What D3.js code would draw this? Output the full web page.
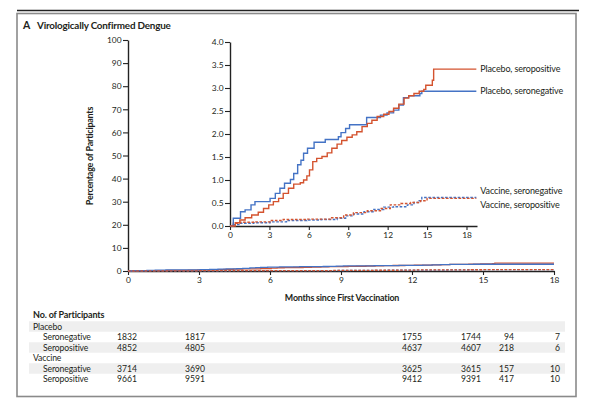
<!DOCTYPE html>
<html><head><meta charset="utf-8">
<script src="https://cdn.jsdelivr.net/npm/d3@7"></script>
<style>
html,body{margin:0;padding:0;background:#fff;}
svg{display:block;font-family:Lato,"Noto Sans",sans-serif;}
</style></head>
<body>
<svg id="c" width="600" height="400"></svg>
<script>
// ---- data ----
const title = "Virologically Confirmed Dengue";
const panelLetter = "A";
const mainYTicks = [0,10,20,30,40,50,60,70,80,90,100];
const xTicks = [0,3,6,9,12,15,18];
const insetYTicks = [0,0.5,1,1.5,2,2.5,3,3.5,4];
const seriesNames = ["Placebo, seropositive","Placebo, seronegative","Vaccine, seronegative","Vaccine, seropositive"];

// [month, cumulative %] step points
const placeboSeroneg = [[0,0],[0.25,0.17],[0.8,0.31],[1.15,0.35],[1.6,0.46],[1.9,0.53],[3.05,0.6],[3.45,0.71],[3.8,0.82],[4.15,0.93],[4.6,1.01],[4.85,1.14],[5.15,1.33],[5.4,1.43],[5.6,1.58],[5.9,1.69],[6.4,1.82],[7.25,1.88],[8.25,1.94],[8.45,2.03],[8.8,2.12],[9.1,2.2],[10.4,2.36],[11.45,2.41],[11.95,2.46],[12.45,2.52],[12.85,2.63],[13.2,2.79],[13.6,2.83],[14.45,2.88],[14.6,2.93],[18.75,2.93]];
const placeboSeropos = [[0,0],[0.4,0.07],[0.75,0.13],[1.15,0.18],[1.65,0.24],[2.15,0.3],[2.55,0.38],[2.95,0.46],[3.3,0.53],[3.7,0.6],[4.05,0.71],[4.45,0.82],[4.85,0.91],[5.35,0.94],[5.6,1.0],[5.85,1.09],[6.05,1.22],[6.3,1.4],[6.6,1.47],[7.0,1.51],[7.4,1.59],[7.75,1.69],[8.15,1.78],[8.5,1.86],[8.9,1.93],[9.3,1.98],[9.65,2.05],[10.05,2.16],[10.45,2.23],[10.8,2.3],[11.2,2.38],[11.7,2.43],[12.1,2.49],[12.45,2.56],[12.85,2.65],[13.25,2.78],[13.6,2.83],[14.0,2.88],[14.4,2.93],[14.75,2.97],[14.9,3.06],[15.4,3.17],[15.5,3.41],[18.75,3.41]];
const vaccineSeroneg = [[0,0],[0.25,0.03],[0.75,0.06],[1.8,0.07],[3.05,0.09],[4.3,0.12],[5.85,0.13],[6.9,0.14],[8.15,0.17],[8.8,0.22],[9.4,0.26],[10.2,0.31],[10.95,0.36],[11.7,0.41],[12.45,0.42],[13.5,0.46],[14.0,0.51],[14.4,0.55],[14.6,0.62],[18.75,0.62]];
const vaccineSeropos = [[0,0],[0.25,0.06],[0.75,0.08],[1.8,0.09],[3.05,0.12],[4.05,0.14],[5.85,0.15],[7.65,0.18],[8.65,0.24],[9.4,0.29],[10.45,0.33],[11.45,0.38],[12.2,0.46],[13.0,0.49],[13.75,0.51],[14.5,0.55],[15.0,0.6],[18.75,0.6]];

// table
const tableGroups = ["Placebo","Vaccine"];
const tableRowLabels = ["Seronegative","Seropositive"];
const placeboCounts = [[1832,1817,1755,1744,94,7],[4852,4805,4637,4607,218,6]];
const vaccineCounts = [[3714,3690,3625,3615,157,10],[9661,9591,9412,9391,417,10]];

// ---- layout ----
const RED = "#d4532f", BLUE = "#4473c5", TXT = "#231f20";
const svg = d3.select("#c");

// frame
svg.append("line").attr("x1",17).attr("x2",579).attr("y1",10.5).attr("y2",10.5).attr("stroke","#222").attr("stroke-width",1.5);
svg.append("rect").attr("x",17).attr("y",13.5).attr("width",559).attr("height",383).attr("fill","none").attr("stroke","#8a8a8a").attr("stroke-width",1.6);

// title
svg.append("text").attr("x",23).attr("y",28.5).attr("font-size",10.5).attr("font-weight",700).attr("fill",TXT).text(panelLetter);
svg.append("text").attr("x",37).attr("y",28.5).attr("font-size",9.9).attr("font-weight",700).attr("fill",TXT).attr("letter-spacing",-0.2).text(title);

const series = [
  {name:seriesNames[0], data:placeboSeropos, color:RED, dash:null, dy:0},
  {name:seriesNames[1], data:placeboSeroneg, color:BLUE, dash:null, dy:0},
  {name:seriesNames[2], data:vaccineSeroneg, color:BLUE, dash:"2.6,1.6", dy:-6.5},
  {name:seriesNames[3], data:vaccineSeropos, color:RED, dash:"2.6,1.6", dy:6.5}
];

// ---- main chart ----
const mx = d3.scaleLinear().domain([0,18]).range([128,554]);
const my = d3.scaleLinear().domain([0,100]).range([271,40]);
const fs = 8.4;

const yAx = svg.append("g").attr("transform","translate(128,0)")
  .call(d3.axisLeft(my).tickValues(mainYTicks).tickSize(5).tickPadding(1.5).tickSizeOuter(0));
const xAx = svg.append("g").attr("transform","translate(0,271)")
  .call(d3.axisBottom(mx).tickValues(xTicks).tickSize(4).tickPadding(2.5).tickSizeOuter(0));
[yAx,xAx].forEach(a=>{
  a.select(".domain").attr("stroke","#222").attr("stroke-width",1.4);
  a.selectAll(".tick line").attr("stroke","#222").attr("stroke-width",1.1);
  a.selectAll("text").attr("font-family","Lato,sans-serif").attr("font-size",fs).attr("fill",TXT);
});

svg.append("defs").append("clipPath").attr("id","mainclip").append("rect")
  .attr("x",128).attr("y",30).attr("width",426).attr("height",245);

const mainLine = d3.line().x(d=>mx(d[0])).y(d=>my(d[1])).curve(d3.curveStepAfter);
const mg = svg.append("g").attr("clip-path","url(#mainclip)");
series.forEach(s=>{
  mg.append("path").attr("d",mainLine(s.data)).attr("fill","none").attr("stroke",s.color)
    .attr("stroke-width",1.3).attr("stroke-dasharray",s.dash);
});

svg.append("text").attr("transform","translate(93,156) rotate(-90)").attr("text-anchor","middle")
  .attr("font-size",8.9).attr("font-weight",700).attr("fill",TXT).attr("letter-spacing",-0.2).text("Percentage of Participants");
svg.append("text").attr("x",342).attr("y",301).attr("text-anchor","middle")
  .attr("font-size",8.9).attr("font-weight",700).attr("fill",TXT).attr("letter-spacing",-0.2).text("Months since First Vaccination");

// ---- inset ----
const ix = d3.scaleLinear().domain([0,18.8]).range([230,477]);
const iy = d3.scaleLinear().domain([0,4]).range([226,42]);
const iyAx = svg.append("g").attr("transform","translate(230,0)")
  .call(d3.axisLeft(iy).tickValues(insetYTicks).tickFormat(d3.format(".1f")).tickSize(5).tickPadding(1.5).tickSizeOuter(0));
const ixAx = svg.append("g").attr("transform","translate(0,226)")
  .call(d3.axisBottom(ix).tickValues(xTicks).tickSize(4).tickPadding(2.5).tickSizeOuter(0));
[iyAx,ixAx].forEach(a=>{
  a.select(".domain").attr("stroke","#222").attr("stroke-width",1.4);
  a.selectAll(".tick line").attr("stroke","#222").attr("stroke-width",1.1);
  a.selectAll("text").attr("font-family","Lato,sans-serif").attr("font-size",fs).attr("fill",TXT);
});

const insetLine = d3.line().x(d=>ix(d[0])).y(d=>iy(d[1])).curve(d3.curveStepAfter);
// draw vaccine first, placebo on top
[series[2],series[3],series[1],series[0]].forEach(s=>{
  svg.append("path").attr("d",insetLine(s.data)).attr("fill","none").attr("stroke",s.color)
    .attr("stroke-width",1.4).attr("stroke-dasharray",s.dash);
});
series.forEach(s=>{
  const last = s.data[s.data.length-1];
  svg.append("text").attr("x",ix(last[0])+4).attr("y",iy(last[1])+s.dy).attr("dy","0.35em")
    .attr("font-size",9).attr("fill",TXT).attr("letter-spacing",-0.15).text(s.name);
});

// ---- table ----
const colRight = [137,205,422,481,514,560];
const rowH = 10.5;
const t0 = 326.5;
svg.append("text").attr("x",33).attr("y",318).attr("font-size",9).attr("font-weight",700).attr("fill",TXT).attr("letter-spacing",-0.15).text("No. of Participants");
const rows = [];
tableGroups.forEach((g,gi)=>{
  rows.push({label:g, indent:false, counts:null});
  const counts = gi===0?placeboCounts:vaccineCounts;
  tableRowLabels.forEach((r,ri)=>rows.push({label:r, indent:true, counts:counts[ri]}));
});
rows.forEach((r,i)=>{
  const cy = t0 + i*rowH;
  if(i%2===0) svg.append("rect").attr("x",29).attr("y",cy-rowH/2).attr("width",536).attr("height",rowH).attr("fill","#efefef");
  svg.append("text").attr("x",r.indent?43:33).attr("y",cy).attr("dy","0.35em").attr("font-size",8.6).attr("fill",TXT).attr("letter-spacing",-0.1).text(r.label);
  if(r.counts) r.counts.forEach((c,j)=>{
    svg.append("text").attr("x",colRight[j]).attr("y",cy).attr("dy","0.35em").attr("text-anchor","end")
      .attr("font-size",8.6).attr("fill",TXT).text(c);
  });
});
</script>
</body></html>
